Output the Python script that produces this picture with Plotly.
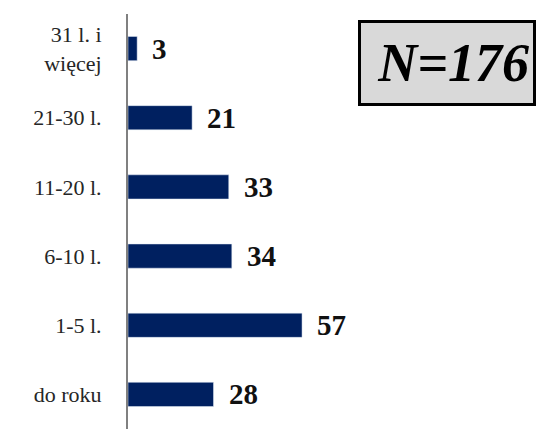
import plotly.graph_objects as go

categories = ['31 l. i<br>więcej', '21-30 l.', '11-20 l.', '6-10 l.', '1-5 l.', 'do roku']
values = [3, 21, 33, 34, 57, 28]
sample_label = 'N=176'

bar_color = '#002060'
serif = 'Liberation Serif'

fig = go.Figure(go.Bar(
    x=values,
    y=categories,
    orientation='h',
    marker=dict(color=bar_color),
    width=0.35,
    hoverinfo='x+y',
))

# value labels sit a bit away from the bar end
for cat, val in zip(categories, values):
    fig.add_annotation(x=val, y=cat, text=f'<b>{val}</b>', showarrow=False,
                       xanchor='left', xshift=13,
                       font=dict(family=serif, size=29, color='#111111'))

# sample size box
fig.add_annotation(x=0.575, y=0.9855, xref='paper', yref='paper',
                   xanchor='left', yanchor='top', align='right',
                   text=f'<b><i>{sample_label}</i></b>', showarrow=False,
                   font=dict(family=serif, size=54, color='#000000'),
                   bgcolor='#d9d9d9', bordercolor='#000000', borderwidth=3,
                   borderpad=4, width=164, height=72)

fig.update_layout(
    width=539,
    height=436,
    plot_bgcolor='white',
    paper_bgcolor='white',
    showlegend=False,
    margin=dict(l=128, r=11, t=14, b=7),
    font=dict(family=serif, size=22, color='#262626'),
    xaxis=dict(range=[0, 131], visible=False, fixedrange=True),
    yaxis=dict(categoryorder='array', categoryarray=categories[::-1],
               showline=True, linecolor='#808080', linewidth=2,
               ticks='', ticklabelstandoff=20, showgrid=False,
               automargin=False, zeroline=False, fixedrange=True,
               tickfont=dict(family=serif, size=22, color='#262626')),
)

# drop the default page margin so the figure sits at the window corner
fig.write_html("out.html", config={'displayModeBar': False},
               post_script="document.body.style.margin='0';")
